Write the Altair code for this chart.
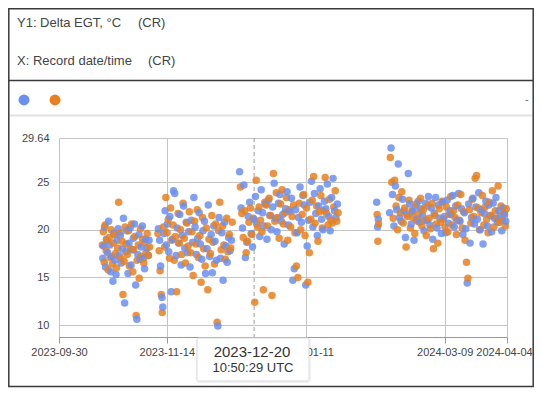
import altair as alt
import pandas as pd

# ---------------- data ----------------
# x: days after 2023-09-30 00:00 UTC, y: Delta EGT (°C)
blue_days_1 = [18.3,18.6,19.0,19.4,19.8,20.3,20.7,21.2,21.6,22.0,22.5,22.9,23.4,23.8,24.2,24.7,25.1,25.6,26.0,26.5,
               26.9,27.4,27.9,28.3,28.8,29.2,29.7,30.1,30.6,31.0,31.5,32.0,32.5,32.9,33.4,33.8,34.3,34.8,35.2,35.7,
               36.2,36.7,37.2,37.6]
blue_vals_1 = [17.0,18.3,20.3,16.1,19.0,17.6,20.9,18.4,15.6,17.2,14.6,19.6,16.8,15.3,18.9,20.1,17.3,19.4,16.5,18.0,
               21.2,12.3,17.7,19.9,15.4,18.6,20.2,16.3,17.9,19.1,20.6,14.2,10.6,17.4,19.5,16.9,18.2,20.4,17.0,15.9,
               19.0,18.1,17.3,18.9]
orange_days_1 = [18.1,18.5,18.9,19.3,19.7,20.1,20.5,21.0,21.4,21.8,22.3,22.7,23.1,23.6,24.0,24.5,24.9,25.4,25.8,26.3,
                 26.7,27.2,27.6,28.1,28.5,29.0,29.4,29.9,30.3,30.8,31.2,31.7,32.2,32.6,33.1,33.5,34.0,34.4,34.9,35.4,
                 35.8,36.3,36.8,37.3,37.8]
orange_vals_1 = [18.4,19.8,16.6,20.5,17.8,18.9,15.8,19.2,17.1,20.0,16.4,18.6,19.5,17.5,16.0,18.1,22.9,19.7,17.0,18.8,
                 13.2,16.7,20.3,18.5,17.4,19.9,16.2,18.0,20.6,15.6,17.9,19.3,11.0,16.8,18.4,14.9,20.1,17.2,19.0,16.5,
                 18.7,17.6,19.6,17.3,18.2]

blue_days_2 = [41.5,42.0,42.4,43.0,43.3,43.8,44.3,44.8,45.3,45.8,46.3,46.8,47.3,47.8,48.3,48.9,49.4,49.9,50.4,51.0,
               51.5,52.0,52.5,53.1,53.6,54.1,54.7,55.2,55.8,56.3,56.8,57.4,57.9,58.5,59.0,59.6,60.1,60.7,61.2,61.8,
               62.3,62.9,63.5,64.0,64.6,65.1,65.7,66.3,66.8,67.4,68.0,68.5,69.1,69.7,70.2,70.8,71.4,72.0]
blue_vals_2 = [20.1,18.9,16.2,12.9,11.9,19.6,22.0,18.4,20.6,17.7,21.4,13.5,19.0,24.1,23.8,17.3,20.2,18.6,21.6,16.3,
               19.4,22.5,18.1,20.8,17.6,19.8,16.1,21.0,18.7,23.4,20.3,17.4,19.1,21.8,18.5,16.9,19.9,20.9,15.4,18.0,
               22.6,17.2,19.5,15.5,20.4,18.8,16.8,9.9,21.3,17.0,19.7,14.7,20.8,18.3,16.6,19.2,17.8,18.9]
orange_days_2 = [41.3,41.8,42.2,42.7,43.1,43.6,44.1,44.6,45.1,45.6,46.1,46.6,47.1,47.6,48.1,48.6,49.1,49.7,50.2,50.7,
                 51.2,51.8,52.3,52.8,53.4,53.9,54.4,55.0,55.5,56.0,56.6,57.1,57.7,58.2,58.8,59.3,59.9,60.4,61.0,61.5,
                 62.1,62.6,63.2,63.8,64.3,64.9,65.4,66.0,66.6,67.1,67.7,68.3,68.8,69.4,70.0,70.5,71.1,71.7,72.3]
orange_vals_2 = [19.6,17.8,15.7,13.2,11.3,20.3,18.2,23.4,19.7,21.1,17.0,22.3,18.9,20.5,16.8,19.3,13.5,21.7,18.6,20.0,
                 17.4,22.8,19.1,16.5,20.7,18.3,21.9,17.6,19.8,15.2,20.9,18.5,22.1,17.1,19.4,14.5,21.3,18.0,16.2,20.2,
                 13.7,19.0,17.5,21.5,18.7,16.4,20.6,10.3,19.9,22.9,17.9,20.4,18.4,16.9,21.2,17.7,19.5,18.1,20.8]

blue_days_3 = [75.4,76.0,76.6,77.2,77.8,78.4,79.0,79.6,80.2,80.8,81.4,82.0,82.6,83.2,83.8,84.4,85.0,85.6,86.2,86.8,
               87.4,88.0,88.6,89.2,89.8,90.4,91.0,91.6,92.2,92.8,93.4,94.0,94.6,95.2,95.8,96.4,97.0,97.6,98.2,98.8,
               99.4,100.0,100.6,101.2,101.8,102.4,103.0,103.6,104.2,104.8,105.4,106.0,106.6,107.2,107.8,108.4,109.0,
               109.6,110.2,110.8,111.4,112.0,112.6,113.2,113.8,114.4,115.0,115.6,116.2]
blue_vals_3 = [26.1,22.3,20.2,24.7,17.1,18.7,21.4,22.9,19.6,18.2,21.1,23.5,20.6,22.0,19.3,24.2,21.8,20.4,22.7,19.0,
               23.1,21.5,20.0,22.4,24.9,21.2,19.8,22.8,23.7,20.9,21.6,18.5,22.2,24.0,20.5,21.9,23.3,14.7,15.9,22.1,
               19.7,21.3,24.5,20.8,23.6,22.6,14.2,18.3,21.0,22.9,25.1,20.3,23.8,21.7,19.4,22.5,24.3,21.1,20.0,23.0,
               22.2,24.8,21.4,19.9,23.4,25.4,22.0,21.3,22.7]
orange_days_3 = [75.7,76.3,76.9,77.5,78.1,78.7,79.3,79.9,80.5,81.1,81.7,82.3,82.9,83.5,84.1,84.7,85.3,85.9,86.5,87.1,
                 87.7,88.3,88.9,89.5,90.1,90.7,91.3,91.9,92.5,93.1,93.7,94.3,94.9,95.5,96.1,96.7,97.3,97.9,98.5,99.1,
                 99.7,100.3,100.9,101.5,102.1,102.7,103.3,103.9,104.5,105.1,105.7,106.3,106.9,107.5,108.1,108.7,109.3,
                 109.9,110.5,111.1,111.7,112.3,112.9,113.5,114.1,114.7,115.3,115.9,116.5]
orange_vals_3 = [24.5,21.7,19.2,22.0,17.6,18.8,20.8,22.3,19.5,21.2,12.4,25.2,20.3,22.4,21.0,19.8,13.7,22.9,22.6,20.4,
                 23.3,21.5,13.1,25.9,20.9,23.9,21.3,19.1,22.7,24.2,20.6,21.8,23.4,18.9,22.1,20.3,21.4,22.6,19.7,16.2,
                 15.0,22.8,20.0,21.6,23.7,19.4,22.3,14.5,17.6,21.1,23.1,25.6,20.7,22.5,18.8,21.9,23.6,20.2,22.0,25.5,
                 21.7,20.5,23.2,21.0,20.7,22.4,24.1,20.9,21.8]

blue_days_4 = [132.6,133.0,133.3,
               138.0,138.6,139.2,139.8,140.4,141.0,141.6,142.2,142.8,143.4,144.0,144.6,145.2,145.8,146.4,147.0,
               147.6,148.2,148.8,149.4,150.0,150.6,151.2,151.8,152.4,153.0,153.6,154.2,154.8,155.4,156.0,156.6,
               157.2,157.8,158.4,159.0,159.6,160.2,160.8,161.4,162.0,162.6,163.2,163.8,164.4,165.0,165.6,166.2,
               166.8,167.4,168.0,168.6,169.2,169.8,170.4,171.0,171.6,172.2,172.8,173.4,174.0,174.6,175.2,175.8,
               176.4,177.0,177.6,178.2,178.8,179.4,180.0,180.6,181.2,181.8,182.4,183.0,183.6,184.2,184.8,185.4,
               186.0,186.5]
blue_vals_4 = [22.9,20.3,21.1,
               21.8,28.6,23.7,20.4,24.6,22.1,26.9,21.3,20.9,23.2,22.0,19.2,21.6,25.9,22.7,20.6,21.9,18.9,22.4,21.1,
               23.0,20.8,22.2,21.5,19.9,22.8,21.0,23.5,20.5,22.3,19.0,21.7,23.4,20.2,22.6,21.2,19.6,22.9,21.4,19.7,
               23.1,20.7,22.0,21.6,23.6,20.3,22.5,21.0,23.8,20.9,22.2,19.5,21.8,20.1,14.4,22.7,18.6,21.3,23.3,20.6,
               22.4,21.1,23.9,20.0,22.1,18.5,21.7,23.0,20.4,22.6,21.5,19.8,22.8,21.2,23.4,20.8,22.0,21.4,19.9,22.3,
               21.6,20.9]
orange_days_4 = [132.8,133.1,133.4,
                 138.3,138.9,139.5,140.1,140.7,141.3,141.9,142.5,143.1,143.7,144.3,144.9,145.5,146.1,146.7,147.3,
                 147.9,148.5,149.1,149.7,150.3,150.9,151.5,152.1,152.7,153.3,153.9,154.5,155.1,155.7,156.3,156.9,
                 157.5,158.1,158.7,159.3,159.9,160.5,161.1,161.7,162.3,162.9,163.5,164.1,164.7,165.3,165.9,166.5,
                 167.1,167.7,168.3,168.9,169.5,170.1,170.7,171.3,171.9,172.5,173.1,173.7,174.3,174.9,175.5,176.1,
                 176.7,177.3,177.9,178.5,179.1,179.7,180.3,180.9,181.5,182.1,182.7,183.3,183.9,184.5,185.1,185.7,
                 186.3,186.7]
orange_vals_4 = [21.6,18.8,20.6,
                 27.6,25.0,21.2,25.2,22.5,20.0,23.4,21.8,24.0,20.7,22.3,18.2,21.4,23.1,20.2,22.0,21.3,19.6,22.7,20.9,
                 21.7,23.3,20.4,22.1,21.0,19.4,22.5,21.2,20.1,22.8,18.0,21.5,20.6,18.6,22.2,20.8,23.0,21.1,20.3,22.4,
                 19.8,21.6,23.5,20.5,22.0,21.3,19.5,22.6,21.0,23.7,20.2,21.9,18.9,16.6,14.9,22.1,20.7,23.2,21.4,25.4,
                 25.7,22.3,20.0,21.8,23.6,20.5,22.4,21.1,19.7,22.9,21.5,24.1,20.3,22.0,21.2,24.6,20.8,22.5,21.0,21.7,
                 20.4,22.2]

series_names = ["Y1 blue", "Y1 orange"]
series_colors = ["#4f7de3", "#de7414"]
legend_colors = ["#6b8ff0", "#e8801e"]

x_ticks = [(2023, 9, 30), (2023, 11, 14), (2024, 1, 11), (2024, 3, 9), (2024, 4, 4)]
y_ticks = [10, 15, 20, 25, 29.64]
y_domain = [8.74, 29.64]
marker_time = "2023-12-20T10:50:29Z"
marker_lines = ["2023-12-20", "10:50:29 UTC"]
header_y = "Y1: Delta EGT, °C"
header_x = "X: Record date/time"
header_tag = "(CR)"

# ---------------- build table ----------------
base_ms = pd.Timestamp("2023-09-30T00:00:00Z").value // 10**6
rows = []
for name, groups in [
    (series_names[0], [(blue_days_1, blue_vals_1), (blue_days_2, blue_vals_2),
                       (blue_days_3, blue_vals_3), (blue_days_4, blue_vals_4)]),
    (series_names[1], [(orange_days_1, orange_vals_1), (orange_days_2, orange_vals_2),
                       (orange_days_3, orange_vals_3), (orange_days_4, orange_vals_4)]),
]:
    for days, vals in groups:
        for d, v in zip(days, vals):
            rows.append({"t": base_ms + int(round(d * 86400000)), "v": v, "s": name})
df = pd.DataFrame(rows).sort_values("t").reset_index(drop=True)

FONT = "Liberation Sans"
last_tick_ms = pd.Timestamp("2024-04-04T00:00:00Z").value // 10**6


def dt(y, m, d):
    return alt.DateTime(year=y, month=m, date=d, utc=True)


x_enc = alt.X(
    "t:T",
    scale=alt.Scale(type="utc", domain=[dt(*x_ticks[0]), dt(*x_ticks[-1])], nice=False),
    axis=alt.Axis(
        values=[dt(*v) for v in x_ticks], format="%Y-%m-%d", title=None,
        labelFont=FONT, labelFontSize=11, labelColor="#444", labelOverlap=False,
        labelFlush=False, labelPadding=3, tickSize=6, tickColor="#999",
        labelOffset={"condition": {"test": f"datum.value >= {last_tick_ms}", "value": -3}, "value": 0},
        domainColor="#999", gridColor="#c4c4c4",
    ),
)
y_enc = alt.Y(
    "v:Q",
    scale=alt.Scale(domain=y_domain, nice=False, zero=False),
    axis=alt.Axis(
        values=y_ticks, labelExpr="'' + datum.value", title=None, labelFont=FONT, labelFontSize=11,
        labelColor="#444", tickSize=0, labelPadding=10, domain=False, gridColor="#c4c4c4",
    ),
)

points = alt.Chart(df).mark_circle(size=56, opacity=0.85).encode(
    x=x_enc,
    y=y_enc,
    color=alt.Color("s:N", scale=alt.Scale(domain=series_names, range=series_colors), legend=None),
)

marker_df = pd.DataFrame({"t": [pd.Timestamp(marker_time).value // 10**6]})
marker = alt.Chart(marker_df).mark_rule(color="#9a9a9a", strokeDash=[4, 3], strokeWidth=1).encode(
    x="t:T", y=alt.value(0), y2=alt.value(199)
)

one = pd.DataFrame({"k": [0]})


def text(val, x, y, size=13, color="#444", align="left"):
    return alt.Chart(one).mark_text(
        align=align, baseline="middle", font=FONT, fontSize=size, color=color
    ).encode(x=alt.value(x), y=alt.value(y), text=alt.value(val))


def hline(y, x1, x2, color, width):
    return alt.Chart(one).mark_rule(color=color, strokeWidth=width).encode(
        x=alt.value(x1), x2=alt.value(x2), y=alt.value(y)
    )


frame = alt.Chart(one).mark_rect(fillOpacity=0, stroke="#3a3a3a", strokeWidth=1.5).encode(
    x=alt.value(-50.2), x2=alt.value(474.2), y=alt.value(-129.2), y2=alt.value(248.5)
)

legend_dots = alt.Chart(pd.DataFrame({"s": series_names, "px": [-35, -4]})).mark_circle(
    size=120, opacity=1
).encode(
    x=alt.X("px:Q", scale=None),
    y=alt.value(-38),
    color=alt.Color("s:N", scale=alt.Scale(domain=series_names, range=legend_colors), legend=None),
)

tip_shadow = alt.Chart(one).mark_rect(fill="#000000", fillOpacity=0.05, cornerRadius=3).encode(
    x=alt.value(137), x2=alt.value(252), y=alt.value(200), y2=alt.value(245)
)
tip_box = alt.Chart(one).mark_rect(fill="#ffffff", stroke="#dcdcdc", strokeWidth=1, cornerRadius=2).encode(
    x=alt.value(138), x2=alt.value(250), y=alt.value(200), y2=alt.value(243)
)

chart = alt.layer(
    hline(-57.5, -50.2, 474.2, "#3a3a3a", 1.3),
    hline(-22.5, -49.5, 473.5, "#e2e2e2", 2),
    text(header_y, -42, -115),
    text(header_tag, 79, -115),
    text(header_x, -42, -77),
    text(header_tag, 89, -77),
    text("-", 466, -38, size=11, color="#666"),
    legend_dots,
    marker,
    points,
    tip_shadow,
    tip_box,
    text(marker_lines[0], 193, 214, size=15, color="#333", align="center"),
    text(marker_lines[1], 194, 230, size=13, color="#333", align="center"),
    frame,
).properties(
    width=448,
    height=199,
    autosize=alt.AutoSizeParams(type="none"),
    padding={"left": 51, "top": 130, "right": 27, "bottom": 51},
    background="#ffffff",
).configure_view(stroke=None)

chart.save("out.html", embed_options={"renderer": "svg", "actions": False})
